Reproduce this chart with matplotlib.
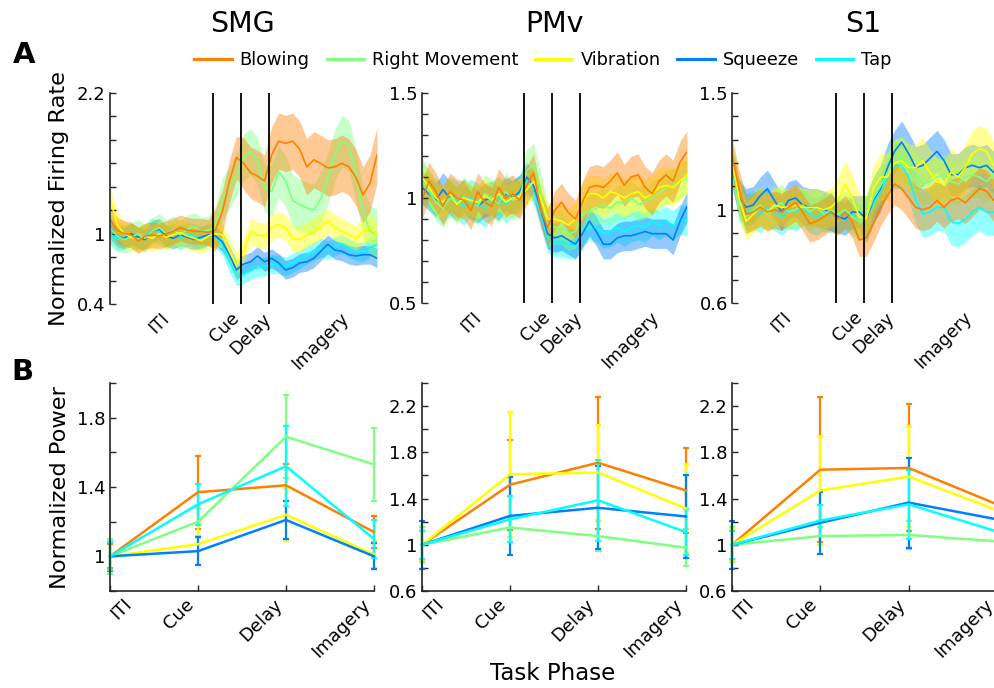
import numpy as np
import matplotlib
matplotlib.use('Agg')
import matplotlib.pyplot as plt
from matplotlib.lines import Line2D
from matplotlib.transforms import ScaledTranslation

# ---------------- data ----------------
conditions = ['Blowing', 'Right Movement', 'Vibration', 'Squeeze', 'Tap']
cond_colors = ['#FF8000', '#80FF80', '#FFFF00', '#0080FF', '#00FFFF']
regions = ['SMG', 'PMv', 'S1']
phases = ['ITI', 'Cue', 'Delay', 'Imagery']
phase_onsets = [2.2, 2.8, 3.4]          # cue, delay, imagery onsets (s)
t_step = 0.15
n_t = 39

# A: normalized firing rate (mean) per region / condition
fr_smg_blowing = [1.12,1.03,1.00,0.99,0.94,0.98,0.99,0.98,1.00,1.02,1.05,1.03,1.02,1.02,1.01,
                  1.03,1.19,1.45,1.65,1.60,1.52,1.49,1.45,1.67,1.79,1.77,1.79,1.72,1.57,1.63,1.60,1.56,1.57,1.60,1.57,1.48,1.33,1.43,1.67]
fr_smg_rightmov = [1.05,0.98,0.95,0.97,1.00,0.96,1.02,1.05,1.00,1.03,0.99,1.04,1.06,1.02,1.03,
                   1.05,1.30,1.39,1.50,1.65,1.70,1.62,1.39,1.36,1.53,1.45,1.28,1.25,1.22,1.20,1.30,1.47,1.67,1.79,1.75,1.50,1.19,1.02,0.99]
fr_smg_vibration = [1.30,1.08,1.00,0.97,0.95,0.98,0.96,1.00,0.97,0.99,1.01,0.98,0.96,0.94,0.98,
                    1.00,0.99,0.85,0.73,0.85,1.02,0.99,0.98,1.05,1.08,1.05,0.96,0.95,0.99,1.02,1.06,1.11,1.05,1.02,0.99,0.96,1.02,1.05,0.99]
fr_smg_squeeze = [1.05,0.98,0.96,1.00,0.97,0.95,1.02,1.04,0.98,0.96,0.99,0.97,0.95,0.97,0.99,
                  0.98,0.93,0.82,0.69,0.74,0.76,0.81,0.76,0.79,0.75,0.69,0.71,0.75,0.76,0.79,0.85,0.91,0.86,0.85,0.82,0.81,0.82,0.82,0.79]
fr_smg_tap = [1.00,0.95,0.97,0.99,0.96,0.98,1.03,1.01,0.97,0.99,0.96,1.00,0.98,0.96,1.00,
              0.97,0.91,0.76,0.65,0.65,0.69,0.71,0.72,0.74,0.74,0.72,0.75,0.78,0.82,0.85,0.88,0.86,0.89,0.91,0.88,0.85,0.84,0.88,0.91]

fr_pmv_blowing = [0.99,1.08,1.03,0.96,1.03,1.00,0.99,0.94,1.03,0.98,0.96,1.05,1.00,1.02,0.99,
                  1.06,1.12,0.95,0.86,0.94,0.98,0.93,0.90,0.98,1.05,1.06,1.05,1.08,1.12,1.06,1.10,1.11,1.05,1.02,1.08,1.11,1.08,1.17,1.22]
fr_pmv_rightmov = [1.08,1.03,0.98,0.95,1.00,0.97,1.01,0.98,0.96,1.02,1.00,0.97,1.03,0.99,1.00,
                   1.13,1.16,1.03,0.87,0.86,0.86,0.83,0.84,0.92,0.94,0.95,0.97,0.95,0.98,0.98,1.00,0.97,0.98,1.00,1.02,1.05,1.06,1.08,1.10]
fr_pmv_vibration = [1.10,1.05,1.00,0.98,1.02,0.97,1.00,0.99,0.98,1.01,0.99,1.02,0.98,1.00,1.01,
                    1.04,1.08,1.00,0.90,0.90,0.89,0.87,0.90,0.98,1.02,1.02,1.00,1.03,1.02,1.00,1.02,1.03,1.00,1.02,1.05,1.06,1.05,1.08,1.11]
fr_pmv_squeeze = [1.05,1.02,0.99,1.04,1.00,0.97,1.01,0.98,0.96,0.99,1.00,0.97,1.02,1.00,1.03,
                  1.10,1.06,0.95,0.83,0.81,0.82,0.80,0.78,0.83,0.89,0.84,0.78,0.78,0.81,0.82,0.82,0.83,0.84,0.83,0.83,0.83,0.80,0.89,0.96]
fr_pmv_tap = [1.10,1.04,1.00,0.97,1.01,0.99,0.96,1.00,0.98,0.95,0.99,1.01,0.97,1.00,1.02,
              1.08,1.04,0.93,0.81,0.79,0.79,0.78,0.78,0.84,0.87,0.86,0.83,0.84,0.86,0.84,0.86,0.87,0.86,0.89,0.87,0.89,0.87,0.90,0.89]

fr_s1_blowing = [1.23,1.09,0.98,0.99,1.01,0.99,1.00,0.99,1.01,1.03,0.99,0.94,0.95,0.97,0.99,
                 0.96,0.99,0.95,0.87,0.88,0.94,1.01,1.06,1.11,1.09,1.05,1.01,1.00,1.01,1.04,1.01,1.04,1.05,1.03,1.06,1.09,1.08,1.04,1.05]
fr_s1_rightmov = [1.20,1.03,0.97,1.00,1.02,0.98,1.01,1.03,0.99,1.00,1.02,0.99,1.01,0.98,1.00,
                  0.98,1.00,0.97,0.95,0.97,1.05,1.10,1.16,1.21,1.22,1.19,1.15,1.11,1.12,1.14,1.15,1.12,1.11,1.14,1.15,1.14,1.12,1.15,1.14]
fr_s1_vibration = [1.22,1.05,0.95,0.98,1.01,0.99,1.02,1.01,1.01,1.02,1.01,1.01,1.01,1.00,1.01,
                   1.04,1.11,1.05,0.97,0.96,1.09,1.14,1.14,1.20,1.21,1.18,1.18,1.21,1.16,1.12,1.11,1.16,1.14,1.18,1.24,1.26,1.25,1.19,1.21]
fr_s1_squeeze = [1.18,1.05,1.01,1.02,1.06,1.09,1.04,0.99,1.04,1.05,1.02,1.01,1.01,1.00,0.99,
                 0.97,0.96,0.99,0.99,0.96,1.04,1.09,1.18,1.25,1.29,1.24,1.18,1.19,1.22,1.25,1.21,1.15,1.15,1.18,1.19,1.18,1.19,1.16,1.15]
fr_s1_tap = [1.20,1.04,0.99,1.00,0.98,1.01,0.99,0.97,1.00,0.99,1.01,0.98,0.97,0.99,0.98,
             0.97,0.99,0.98,0.95,0.97,1.02,1.08,1.14,1.19,1.19,1.14,1.04,0.98,0.99,1.01,1.01,0.95,0.94,0.96,0.99,1.01,0.99,0.99,0.99]

# A: s.e.m. of firing rate per task phase (ITI, Cue, Delay, Imagery)
sem_smg = [[0.11,0.18,0.22,0.24],[0.12,0.18,0.20,0.22],[0.11,0.11,0.11,0.11],[0.09,0.08,0.08,0.08],[0.10,0.09,0.08,0.08]]
sem_pmv = [[0.09,0.09,0.09,0.10],[0.09,0.10,0.08,0.08],[0.08,0.08,0.08,0.09],[0.08,0.07,0.07,0.07],[0.09,0.07,0.07,0.07]]
sem_s1 = [[0.08,0.07,0.08,0.09],[0.08,0.08,0.09,0.09],[0.08,0.10,0.10,0.10],[0.08,0.07,0.10,0.09],[0.08,0.07,0.08,0.10]]

# B: normalized power per phase
pw_smg = [[1.0,1.37,1.41,1.14],[1.0,1.20,1.69,1.53],[1.0,1.07,1.24,1.01],[1.0,1.03,1.21,1.00],[1.0,1.30,1.52,1.10]]
pw_smg_err = [[0.07,0.21,0.12,0.09],[0.10,0.08,0.24,0.21],[0.08,0.12,0.15,0.08],[0.085,0.08,0.11,0.075],[0.08,0.12,0.23,0.11]]
pw_pmv = [[1.0,1.52,1.71,1.47],[1.0,1.15,1.075,0.975],[1.0,1.61,1.625,1.315],[1.0,1.25,1.32,1.245],[1.0,1.22,1.385,1.11]]
pw_pmv_err = [[0.15,0.39,0.57,0.37],[0.15,0.08,0.13,0.16],[0.13,0.54,0.41,0.38],[0.21,0.34,0.36,0.36],[0.12,0.20,0.35,0.20]]
pw_s1 = [[1.0,1.65,1.665,1.35],[1.0,1.075,1.085,1.03],[1.0,1.47,1.59,1.30],[1.0,1.19,1.365,1.22],[1.0,1.21,1.35,1.115]]
pw_s1_err = [[0.15,0.63,0.55,0.35],[0.15,0.08,0.12,0.10],[0.14,0.47,0.44,0.40],[0.21,0.27,0.39,0.30],[0.12,0.13,0.30,0.20]]

fr_data = {
    'SMG': [fr_smg_blowing, fr_smg_rightmov, fr_smg_vibration, fr_smg_squeeze, fr_smg_tap],
    'PMv': [fr_pmv_blowing, fr_pmv_rightmov, fr_pmv_vibration, fr_pmv_squeeze, fr_pmv_tap],
    'S1':  [fr_s1_blowing, fr_s1_rightmov, fr_s1_vibration, fr_s1_squeeze, fr_s1_tap],
}
sem_data = {'SMG': sem_smg, 'PMv': sem_pmv, 'S1': sem_s1}
pw_data = {'SMG': (pw_smg, pw_smg_err), 'PMv': (pw_pmv, pw_pmv_err), 'S1': (pw_s1, pw_s1_err)}

top_ylim = {'SMG': (0.4, 2.2, 0.2, [0.4, 1, 2.2]),
            'PMv': (0.5, 1.5, 0.1, [0.5, 1, 1.5]),
            'S1':  (0.6, 1.5, 0.1, [0.6, 1, 1.5])}
bot_ylim = {'SMG': (0.8, 2.0, 0.2, [1, 1.4, 1.8]),
            'PMv': (0.6, 2.4, 0.2, [0.6, 1, 1.4, 1.8, 2.2]),
            'S1':  (0.6, 2.4, 0.2, [0.6, 1, 1.4, 1.8, 2.2])}
top_label_pos = [1.345, 2.84, 3.52, 5.17]

# ---------------- figure ----------------
W, H = 995, 688
fig = plt.figure(figsize=(W / 100, H / 100), dpi=100)
axc = '#262626'
plt.rcParams['font.family'] = ['DejaVu Sans']

def fx(px): return px / W
def fy(py): return 1 - py / H

top_pos = {'SMG': (110, 377, 93, 304), 'PMv': (422, 687, 93, 303), 'S1': (732, 1000.6, 93, 303)}
bot_pos = {'SMG': (110, 374, 383, 591), 'PMv': (422, 686, 383, 591), 'S1': (732, 997, 383, 591)}

def make_ax(p):
    l, r, t, b = p
    return fig.add_axes([fx(l), fy(b), (r - l) / W, (b - t) / H])

def ytick_setup(ax, lim):
    lo, hi, step, labeled = lim
    ticks = np.round(np.arange(lo, hi + step / 2, step), 3)
    ax.set_ylim(lo, hi)
    ax.set_yticks(ticks)
    ax.set_yticklabels([f'{v:g}' if any(abs(v - q) < 1e-6 for q in labeled) else '' for v in ticks])

t = np.arange(n_t) * t_step
phase_idx = np.searchsorted(phase_onsets, t, side='right')
draw_order = [4, 3, 1, 2, 0]

for reg in regions:
    ax = make_ax(top_pos[reg])
    for i in draw_order:
        m = np.array(fr_data[reg][i])
        s = np.array(sem_data[reg][i])[phase_idx]
        ax.fill_between(t, m - s, m + s, color=cond_colors[i], alpha=0.42, lw=0)
        ax.plot(t, m, color=cond_colors[i], lw=1.2)
    for on in phase_onsets:
        ax.axvline(on, color='black', lw=1.3)
    ax.set_xlim(0, 5.7)
    ytick_setup(ax, top_ylim[reg])
    for sp in ['top', 'right', 'bottom']:
        ax.spines[sp].set_visible(False)
    ax.spines['left'].set_color(axc)
    ax.spines['left'].set_linewidth(1.2)
    ax.set_xticks(top_label_pos)
    ax.set_xticklabels(phases, rotation=45, ha='right')
    ax.tick_params(axis='x', length=0, pad=4, labelsize=12.5, colors='black')
    ax.tick_params(axis='y', direction='in', length=4.5, width=1.0, color=axc, labelsize=13, pad=3)

for reg in regions:
    ax = make_ax(bot_pos[reg])
    vals, errs = pw_data[reg]
    x = np.arange(len(phases))
    for i in range(len(conditions)):
        ax.errorbar(x, vals[i], yerr=errs[i], color=cond_colors[i], lw=1.8,
                    elinewidth=1.6, capsize=2.5, capthick=1.6, clip_on=False)
    ax.set_xlim(0, 3)
    ytick_setup(ax, bot_ylim[reg])
    for sp in ['top', 'right']:
        ax.spines[sp].set_visible(False)
    for sp in ['left', 'bottom']:
        ax.spines[sp].set_color(axc)
        ax.spines[sp].set_linewidth(1.2)
    ax.set_xticks(x)
    ax.set_xticklabels(phases, rotation=45, ha='right')
    ax.tick_params(axis='both', direction='in', length=4.5, width=1.0, color=axc, labelsize=13)
    ax.tick_params(axis='x', pad=3)
    lab0 = ax.get_xticklabels()[0]
    lab0.set_transform(lab0.get_transform() + ScaledTranslation(0.25, 0, fig.dpi_scale_trans))

# titles, labels
for reg, xc in zip(regions, [243, 555, 863]):
    fig.text(fx(xc), fy(24), reg, ha='center', va='center', fontsize=20.5)
fig.text(fx(24), fy(55), 'A', ha='center', va='center', fontsize=21, fontweight='bold')
fig.text(fx(22), fy(372), 'B', ha='center', va='center', fontsize=21, fontweight='bold')
fig.text(fx(59), fy(199), 'Normalized Firing Rate', rotation=90, ha='center', va='center', fontsize=16.2)
fig.text(fx(60), fy(488), 'Normalized Power', rotation=90, ha='center', va='center', fontsize=16.2)
fig.text(fx(553), fy(674), 'Task Phase', ha='center', va='center', fontsize=16.5)

handles = [Line2D([], [], color=c, lw=2.2) for c in cond_colors]
fig.legend(handles, conditions, loc='center', bbox_to_anchor=(fx(543), fy(60)), ncol=5,
           frameon=False, fontsize=12.8, handlelength=2.1, handletextpad=0.45, columnspacing=0.95)

fig.savefig('out.png', dpi=100)
